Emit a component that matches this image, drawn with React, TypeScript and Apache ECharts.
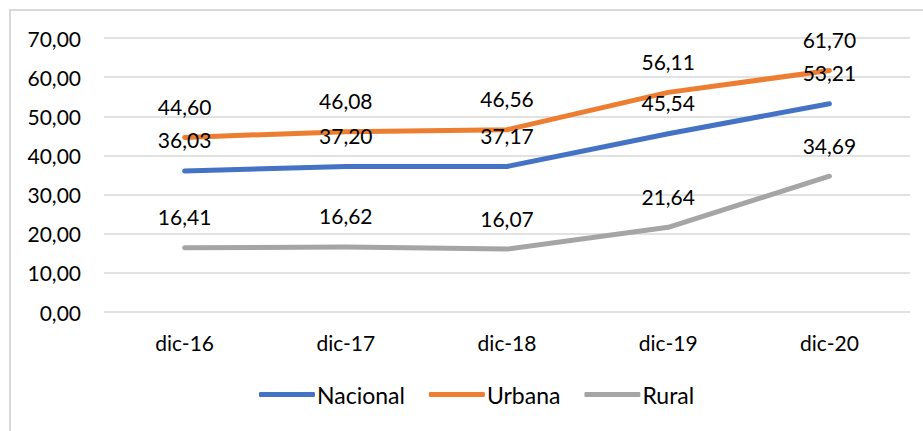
import React, { useEffect, useRef } from "react";
import * as echarts from "echarts";

const categories = ["dic-16", "dic-17", "dic-18", "dic-19", "dic-20"];
const nacional = [36.03, 37.2, 37.17, 45.54, 53.21];
const urbana = [44.6, 46.08, 46.56, 56.11, 61.7];
const rural = [16.41, 16.62, 16.07, 21.64, 34.69];

const FONT = "Lato";
const fmt = (v: number) => v.toFixed(2).replace(".", ",");

export default function App() {
  const ref = useRef<HTMLDivElement>(null);
  useEffect(() => {
    document.body.style.margin = "0";
    const chart = echarts.init(ref.current!, undefined, { renderer: "svg" });
    const mk = (name: string, data: number[], color: string) => ({
      name,
      type: "line",
      data,
      symbol: "circle",
      symbolSize: 1,
      lineStyle: { color, width: 5, cap: "round", join: "round" },
      itemStyle: { color },
      label: {
        show: true,
        position: "top",
        distance: 20,
        color: "#000",
        fontFamily: FONT,
        fontSize: 21,
        formatter: (p: any) => fmt(p.value),
      },
    });
    chart.setOption({
      animation: false,
      graphic: [
        {
          type: "rect",
          shape: { x: 10, y: 10, width: 940, height: 460 },
          style: { fill: "none", stroke: "#d9d9d9", lineWidth: 2 },
          silent: true,
        },
      ],
      grid: { left: 104, right: 13, top: 38, bottom: 119, containLabel: false },
      xAxis: {
        type: "category",
        data: categories,
        axisLine: { show: false },
        axisTick: { show: false },
        axisLabel: { color: "#000", fontFamily: FONT, fontSize: 21, margin: 20 },
      },
      yAxis: {
        type: "value",
        min: 0,
        max: 70,
        interval: 10,
        axisLine: { show: false },
        axisTick: { show: false },
        splitLine: { lineStyle: { color: "#d9d9d9", width: 1.5 } },
        axisLabel: {
          color: "#000",
          fontFamily: FONT,
          fontSize: 21,
          margin: 23,
          formatter: (v: number) => fmt(v),
        },
      },
      legend: {
        bottom: 20,
        left: 254,
        icon: "roundRect",
        itemWidth: 56,
        itemHeight: 5,
        itemGap: 24,
        textStyle: { color: "#000", fontFamily: FONT, fontSize: 23, padding: [0, 0, 0, -3] },
        data: ["Nacional", "Urbana", "Rural"],
      },
      series: [
        mk("Nacional", nacional, "#4472C4"),
        mk("Urbana", urbana, "#ED7D31"),
        mk("Rural", rural, "#A5A5A5"),
      ],
    });
    return () => chart.dispose();
  }, []);
  return <div ref={ref} style={{ width: 923, height: 431 }} />;
}
